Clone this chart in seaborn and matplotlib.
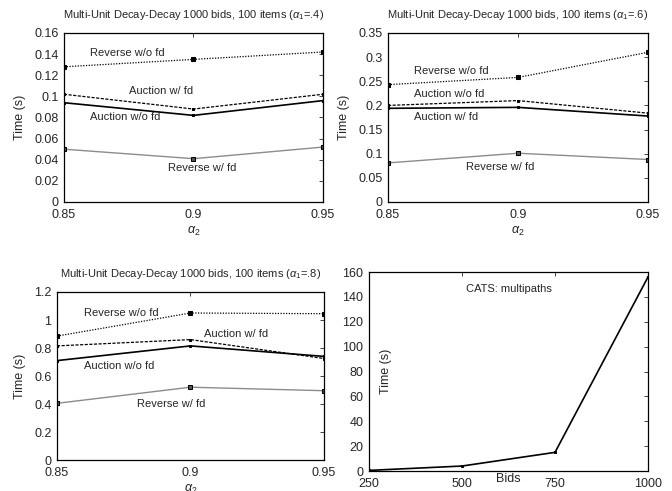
import matplotlib
matplotlib.use("Agg")
import matplotlib.pyplot as plt
import seaborn as sns
import pandas as pd

sns.set_style("white")
plt.rcParams["font.family"] = ["Liberation Sans", "DejaVu Sans"]
plt.rcParams["mathtext.fontset"] = "custom"
plt.rcParams["mathtext.rm"] = "Liberation Sans"
plt.rcParams["mathtext.it"] = "Liberation Sans:italic"

alpha2 = [0.85, 0.9, 0.95]

# alpha1 = .4
p1_rev_wo = [0.128, 0.135, 0.142]
p1_auc_w = [0.102, 0.088, 0.102]
p1_auc_wo = [0.094, 0.082, 0.096]
p1_rev_w = [0.050, 0.041, 0.052]

# alpha1 = .6
p2_rev_wo = [0.243, 0.258, 0.310]
p2_auc_wo = [0.200, 0.210, 0.184]
p2_auc_w = [0.194, 0.196, 0.178]
p2_rev_w = [0.081, 0.101, 0.088]

# alpha1 = .8
p3_rev_wo = [0.885, 1.05, 1.045]
p3_auc_w = [0.815, 0.86, 0.725]
p3_auc_wo = [0.71, 0.815, 0.74]
p3_rev_w = [0.405, 0.52, 0.495]

# CATS multipaths
bids = [250, 500, 750, 1000]
cats_time = [0.5, 4, 15, 156]

styles = [
    dict(color="black", linestyle=(0, (1, 1.2)), linewidth=0.9, marker="s", markersize=2.5,
         markeredgecolor="black"),
    dict(color="black", linestyle=(0, (2.5, 1.2)), linewidth=0.9, marker="s", markersize=2,
         markeredgecolor="black"),
    dict(color="black", linestyle="-", linewidth=1.2, marker="s", markersize=1.5,
         markeredgecolor="black"),
    dict(color="#8c8c8c", linestyle="-", linewidth=1.0, marker="s", markersize=3,
         markeredgecolor="black", markerfacecolor="#555555"),
]

fs = 9


def style_axes(ax):
    ax.tick_params(direction="in", top=True, right=True, length=3, labelsize=fs,
                   width=0.6)
    ax.tick_params(axis="y", pad=4)
    ax.tick_params(axis="x", pad=5)
    for s in ax.spines.values():
        s.set_linewidth(0.9)
        s.set_color("black")


def fmt(v):
    return f"{v:.2f}".rstrip("0").rstrip(".")


def sensitivity_panel(rect, title, data, labels, ylim, yticks):
    ax = fig.add_axes(rect)
    for vals, st in zip(data, styles):
        sns.lineplot(x=alpha2, y=vals, ax=ax, **st)
    ax.set_xlim(0.85, 0.95)
    ax.set_ylim(*ylim)
    ax.set_xticks(alpha2)
    ax.set_xticklabels(["0.85", "0.9", "0.95"])
    ax.set_yticks(yticks)
    ax.set_yticklabels([fmt(v) for v in yticks])
    ax.set_title(title, fontsize=8, pad=11)
    ax.set_xlabel(r"$\alpha_2$", fontsize=fs, labelpad=3)
    ax.set_ylabel("Time (s)", fontsize=fs, labelpad=6)
    for txt, x, y in labels:
        ax.text(x, y, txt, fontsize=8, va="center", ha="left")
    style_axes(ax)
    return ax


fig = plt.figure(figsize=(6.72, 4.91), dpi=100)

sensitivity_panel(
    [0.0952, 0.5886, 0.3854, 0.3442],
    r"Multi-Unit Decay-Decay 1000 bids, 100 items ($\alpha_1$=.4)",
    [p1_rev_wo, p1_auc_w, p1_auc_wo, p1_rev_w],
    [("Reverse w/o fd", 0.860, 0.141), ("Auction w/ fd", 0.875, 0.105),
     ("Auction w/o fd", 0.860, 0.0805), ("Reverse w/ fd", 0.890, 0.032)],
    (0, 0.16), [0, 0.02, 0.04, 0.06, 0.08, 0.1, 0.12, 0.14, 0.16])

sensitivity_panel(
    [0.5774, 0.5886, 0.3869, 0.3442],
    r"Multi-Unit Decay-Decay 1000 bids, 100 items ($\alpha_1$=.6)",
    [p2_rev_wo, p2_auc_wo, p2_auc_w, p2_rev_w],
    [("Reverse w/o fd", 0.860, 0.271), ("Auction w/o fd", 0.860, 0.224),
     ("Auction w/ fd", 0.860, 0.176), ("Reverse w/ fd", 0.880, 0.072)],
    (0, 0.35), [0, 0.05, 0.1, 0.15, 0.2, 0.25, 0.3, 0.35])

sensitivity_panel(
    [0.0848, 0.0631, 0.3973, 0.3422],
    r"Multi-Unit Decay-Decay 1000 bids, 100 items ($\alpha_1$=.8)",
    [p3_rev_wo, p3_auc_w, p3_auc_wo, p3_rev_w],
    [("Reverse w/o fd", 0.860, 1.05), ("Auction w/ fd", 0.905, 0.90),
     ("Auction w/o fd", 0.860, 0.671), ("Reverse w/ fd", 0.880, 0.40)],
    (0, 1.2), [0, 0.2, 0.4, 0.6, 0.8, 1, 1.2])

ax4 = fig.add_axes([0.5491, 0.0407, 0.4152, 0.4053])
cats = pd.DataFrame({"Bids": bids, "Time": cats_time})
sns.lineplot(data=cats, x="Bids", y="Time", ax=ax4, color="black", linewidth=1.2,
             marker="s", markersize=1.5, markeredgecolor="black")
ax4.set_xlim(250, 1000)
ax4.set_ylim(0, 160)
ax4.set_xticks(bids)
ax4.set_yticks(range(0, 161, 20))
ax4.set_xlabel("")
ax4.set_ylabel("")
ax4.text(0.50, 0.916, "CATS: multipaths", transform=ax4.transAxes, fontsize=8,
         ha="center", va="center")
ax4.text(0.061, 0.50, "Time (s)", transform=ax4.transAxes, fontsize=fs,
         ha="center", va="center", rotation=90)
ax4.text(0.50, -0.04, "Bids", transform=ax4.transAxes, fontsize=fs,
         ha="center", va="center")
style_axes(ax4)

fig.savefig("out.png", dpi=100)
